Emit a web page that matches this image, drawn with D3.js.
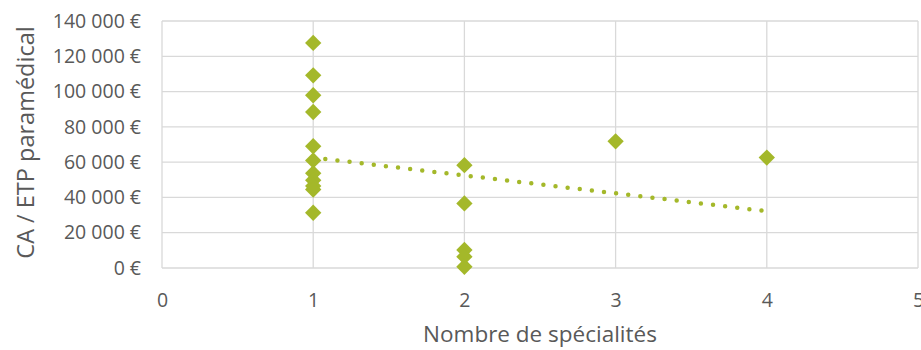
<!DOCTYPE html>
<html><head><meta charset="utf-8">
<script src="https://cdn.jsdelivr.net/npm/d3@7"></script>
<style>body{margin:0;background:#fff;overflow:hidden}svg{display:block}</style>
</head><body><svg id="c" width="921" height="350"></svg>
<script>
// Data
const specialites = [1,1,1,1,1,1,1,1,1,1,1, 2,2,2,2,2, 3, 4];
const caParEtp = [127600,109200,97900,88400,69000,61000,53700,49800,46500,44500,31300,
                  58300,36600,10200,6400,700, 71800, 62600];
const xTicks = [0,1,2,3,4,5];
const yTicks = [0,20000,40000,60000,80000,100000,120000,140000];
const xTitle = "Nombre de spécialités";
const yTitle = "CA / ETP paramédical";

const svg = d3.select("#c");
const L = 162, R = 918, T = 21, B = 268;
const x = d3.scaleLinear().domain([0,5]).range([L,R]);
const y = d3.scaleLinear().domain([0,140000]).range([B,T]);
const color = "#A4B82A";
const font = "'Open Sans', sans-serif";
const fmt = v => d3.format(",")(v).replace(/,/g, "\u00a0") + "\u00a0€";

// gridlines
const grid = svg.append("g").attr("stroke","#D9D9D9").attr("stroke-width",1.3);
grid.selectAll(".h").data(yTicks).join("line")
  .attr("x1",L).attr("x2",R).attr("y1",d=>y(d)).attr("y2",d=>y(d));
grid.selectAll(".v").data(xTicks).join("line")
  .attr("y1",T).attr("y2",B).attr("x1",d=>x(d)).attr("x2",d=>x(d));

// axes (labels only)
const yAxis = svg.append("g").attr("transform",`translate(${L},0)`)
  .call(d3.axisLeft(y).tickValues(yTicks).tickFormat(fmt).tickSize(0).tickPadding(21));
const xAxis = svg.append("g").attr("transform",`translate(0,${B})`)
  .call(d3.axisBottom(x).tickValues(xTicks).tickFormat(d3.format("d")).tickSize(0).tickPadding(25));
[yAxis,xAxis].forEach(a=>{
  a.select(".domain").remove();
  a.selectAll("text").attr("fill","#595959").style("font-family",font).style("font-size","19.5px");
});

// trendline (least squares)
const n = specialites.length;
const mx = d3.mean(specialites), my = d3.mean(caParEtp);
let sxy=0,sxx=0;
for(let i=0;i<n;i++){sxy+=(specialites[i]-mx)*(caParEtp[i]-my);sxx+=(specialites[i]-mx)**2;}
const slope = sxy/sxx, icpt = my - slope*mx;
const x0 = d3.min(specialites), x1 = d3.max(specialites);
svg.append("line")
  .attr("x1",x(x0)).attr("y1",y(icpt+slope*x0))
  .attr("x2",x(x1)).attr("y2",y(icpt+slope*x1))
  .attr("stroke",color).attr("stroke-width",4.5)
  .attr("stroke-linecap","round").attr("stroke-dasharray","0 12.2");

// points
svg.append("g").selectAll("path").data(d3.range(n)).join("path")
  .attr("d", d3.symbol().type(d3.symbolDiamond2).size(170))
  .attr("transform",i=>`translate(${x(specialites[i])},${y(caParEtp[i])})`)
  .attr("fill",color);

// titles
svg.append("text").attr("x",(L+R)/2).attr("y",342).attr("text-anchor","middle")
  .attr("fill","#595959").style("font-family",font).style("font-size","22.5px").text(xTitle);
svg.append("text").attr("transform",`translate(34,${(T+B)/2 - 2}) rotate(-90)`).attr("text-anchor","middle")
  .attr("fill","#595959").style("font-family",font).style("font-size","23.5px").text(yTitle);
</script></body></html>
